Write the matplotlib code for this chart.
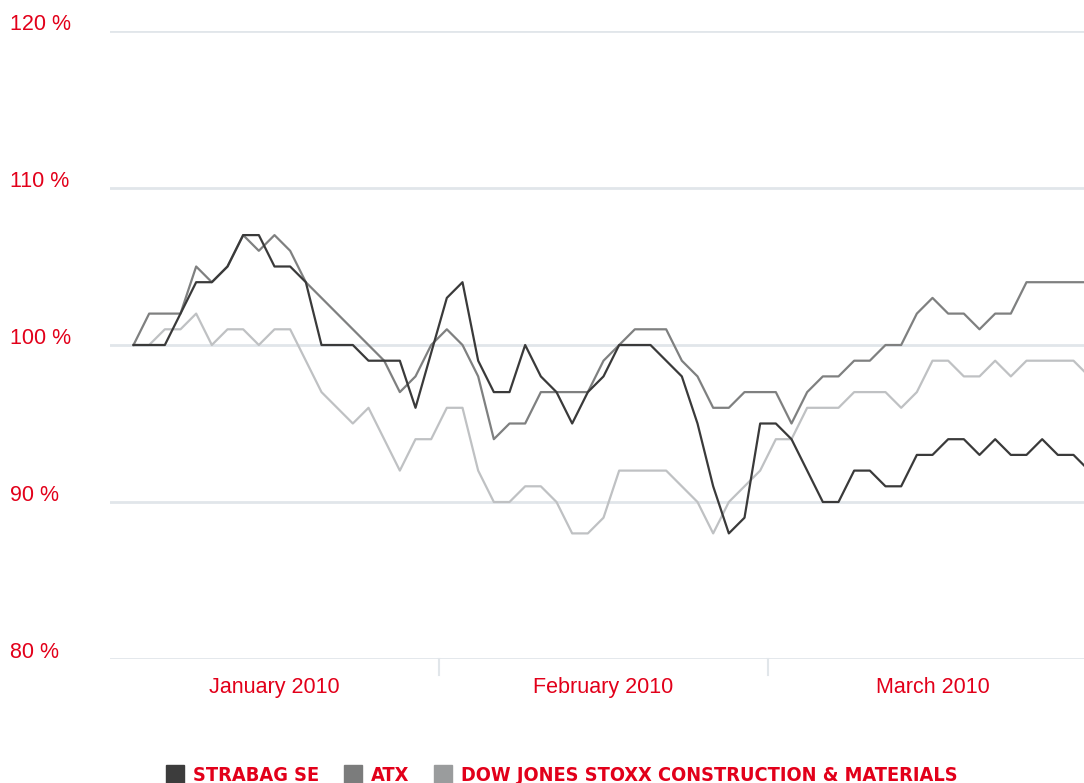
import matplotlib.pyplot as plt
from matplotlib.lines import Line2D

# Datos (índice relativo, 100 % = inicio)
strabag = [100, 100, 100, 102, 104, 104, 105, 107, 107, 105, 105, 104, 100, 100, 100, 99, 99, 99, 96, 99.5,
           103, 104, 99, 97, 97, 100, 98, 97, 95, 97, 98, 100, 100, 100, 99, 98, 95, 91, 88, 89,
           95, 95, 94, 92, 90, 90, 92, 92, 91, 91, 93, 93, 94, 94, 93, 94, 93, 93, 94, 93, 93, 92]
atx = [100, 102, 102, 102, 105, 104, 105, 107, 106, 107, 106, 104, 103, 102, 101, 100, 99, 97, 98, 100,
       101, 100, 98, 94, 95, 95, 97, 97, 97, 97, 99, 100, 101, 101, 101, 99, 98, 96, 96, 97,
       97, 97, 95, 97, 98, 98, 99, 99, 100, 100, 102, 103, 102, 102, 101, 102, 102, 104, 104, 104, 104, 104]
djstoxx = [100, 100, 101, 101, 102, 100, 101, 101, 100, 101, 101, 99, 97, 96, 95, 96, 94, 92, 94, 94,
           96, 96, 92, 90, 90, 91, 91, 90, 88, 88, 89, 92, 92, 92, 92, 91, 90, 88, 90, 91,
           92, 94, 94, 96, 96, 96, 97, 97, 97, 96, 97, 99, 99, 98, 98, 99, 98, 99, 99, 99, 99, 98]

meses = ["January 2010", "February 2010", "March 2010"]
limites_meses = [-1.5, 19.5, 40.5, 61.5]
series = ["STRABAG SE", "ATX", "DOW JONES STOXX CONSTRUCTION & MATERIALS"]
y_ticks = [80, 90, 100, 110, 120]

rojo = '#e2001a'
colores = ['#3a3a3a', '#7f8080', '#bfc1c3']
colores_leyenda = ['#3c3c3c', '#7b7c7c', '#9a9c9d']

fig = plt.figure(figsize=(10.84, 7.83), dpi=100)
ax = fig.add_axes([110 / 1084, 124 / 783, 1 - 110 / 1084, (659 - 31) / 783])

# Líneas de cuadrícula horizontales
for y in y_ticks:
    ax.axhline(y, color='#e1e6ea', linewidth=2, zorder=1)
    ax.text(-0.103, y + 0.05, f"{y} %", transform=ax.get_yaxis_transform(), color=rojo,
            fontsize=15.5, ha='left', va='baseline', family='Liberation Sans')

# Series
x = list(range(len(strabag)))
ax.plot(x, djstoxx, color=colores[2], linewidth=1.6, zorder=2)
ax.plot(x, atx, color=colores[1], linewidth=1.6, zorder=3)
ax.plot(x, strabag, color=colores[0], linewidth=1.6, zorder=4)

ax.set_xlim(-1.5, 60.67)
ax.set_ylim(80, 120)
for s in ax.spines.values():
    s.set_visible(False)
ax.set_xticks([])
ax.set_yticks([])

# Separadores y etiquetas de meses
for lim in limites_meses[1:-1]:
    ax.plot([lim, lim], [80, 79], color='#e1e6ea', linewidth=1.5, clip_on=False)
for i, m in enumerate(meses):
    centro = (limites_meses[i] + limites_meses[i + 1]) / 2
    ax.text(centro, 78.2, m, color=rojo, fontsize=15.5, ha='center', va='center',
            family='Liberation Sans')

# Leyenda
handles = [Line2D([], [], marker='s', linestyle='', markersize=13.5, color=c) for c in colores_leyenda]
leg = fig.legend(handles, series, loc='center', bbox_to_anchor=(0.518, 0.01), ncol=3,
                 frameon=False, handlelength=1.0, handletextpad=0.4, columnspacing=1.2,
                 borderpad=0, prop={'family': 'DejaVu Sans', 'weight': 'bold', 'size': 14.3,
                                    'stretch': 'condensed'})
for t in leg.get_texts():
    t.set_color(rojo)

fig.savefig('out.png', dpi=100)
